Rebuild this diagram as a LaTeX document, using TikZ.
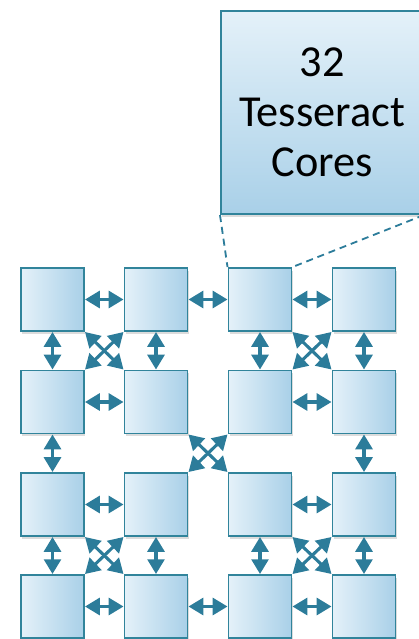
\documentclass[tikz,border=0pt]{standalone}
\usepackage{fontspec}
\setmainfont{Carlito}
\usetikzlibrary{arrows.meta,shadows}
\definecolor{rim}{HTML}{31849B}
\definecolor{wire}{HTML}{2C7C9A}
\definecolor{pale}{HTML}{E4F1F9}
\definecolor{deep}{HTML}{A9D0E8}
\tikzset{
  shade/.style={drop shadow={opacity=0.28, shadow xshift=1pt, shadow yshift=-2pt}},
  core/.style={draw=rim, line width=1.4pt, left color=pale, right color=deep,
    minimum size=1.575cm, inner sep=0pt, shade},
  chip/.style={draw=rim, line width=1.4pt, top color=pale, bottom color=deep,
    minimum width=5.05cm, minimum height=5.075cm, inner sep=0pt, align=center,
    font=\fontsize{31.5}{35.4}\selectfont, shade},
  bus/.style={draw=wire, line width=2.2pt,
    {Triangle[width=12pt,length=10.5pt]}-{Triangle[width=12pt,length=10.5pt]}},
  zoomline/.style={draw=wire, line width=1.3pt, dash pattern=on 5pt off 3.5pt},
}
\begin{document}
\begin{tikzpicture}[x=0.025cm, y=-0.025cm]
  \useasboundingbox (0,0) rectangle (419,639);
  \clip (0,0) rectangle (419,639);

  % grid of cores, row r and column c
  \foreach \r/\y in {1/299.5, 2/402, 3/504.5, 4/606.5}
    \foreach \c/\x in {1/52.5, 2/156, 3/260, 4/364}
      \node[core] (c\r\c) at (\x,\y) {};

  % the enlarged view
  \node[chip] (chip) at (322,112.5) {32\\Tesseract\\Cores};
  \draw[zoomline] (chip.south west) -- (c13.north west);
  \draw[zoomline] (chip.south east) -- (c13.north east);

  % links along the rows
  \foreach \r in {1,2,3,4} {
    \draw[bus] (c\r1.east) -- (c\r2.west);
    \draw[bus] (c\r3.east) -- (c\r4.west);
  }
  \draw[bus] (c12.east) -- (c13.west);
  \draw[bus] (c42.east) -- (c43.west);

  % links along the columns
  \foreach \c in {1,2,3,4} {
    \draw[bus] (c1\c.south) -- (c2\c.north);
    \draw[bus] (c3\c.south) -- (c4\c.north);
  }
  \draw[bus] (c21.south) -- (c31.north);
  \draw[bus] (c24.south) -- (c34.north);

  % crossed diagonal links
  \foreach \a/\b/\p/\q in {11/22/12/21, 13/24/14/23, 31/42/32/41, 33/44/34/43, 22/33/23/32} {
    \draw[bus] (c\a.south east) -- (c\b.north west);
    \draw[bus] (c\p.south west) -- (c\q.north east);
  }
\end{tikzpicture}
\end{document}
